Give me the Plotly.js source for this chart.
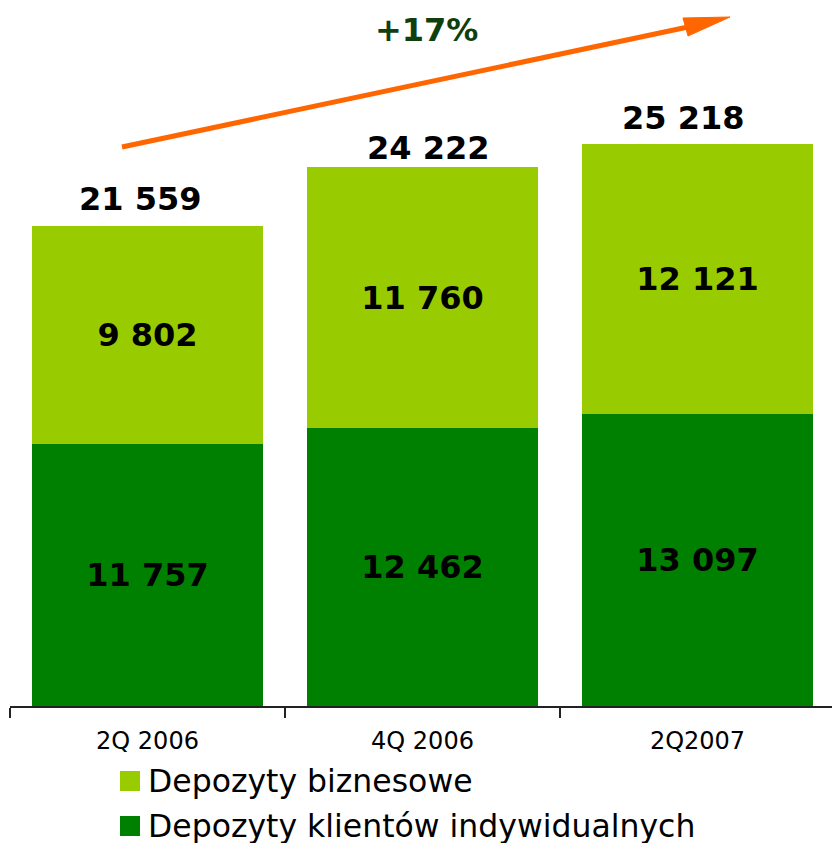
<!DOCTYPE html>
<html>
<head>
<meta charset="utf-8">
<script src="https://cdn.plot.ly/plotly-3.0.1.min.js"></script>
<style>
  html, body { margin: 0; padding: 0; background: #fff; }
  #chart { width: 832px; height: 843px; }
</style>
</head>
<body>
<div id="chart"></div>
<script>
// Deposit data (mln PLN)
const quarters = ['2Q 2006', '4Q 2006', '2Q2007'];
const individual = [11757, 12462, 13097];
const business = [9802, 11760, 12121];
const totals = [21559, 24222, 25218];
const seriesNames = ['Depozyty biznesowe', 'Depozyty klientów indywidualnych'];
const seriesColors = ['#99CC00', '#008000'];
const growthLabel = '+17%';

const FONT = 'Verdana, "DejaVu Sans", sans-serif';

// plot area in pixels, used to place the decorations
const L = 10, T = 0, W = 822, H = 706;
const px = x => (x - L) / W;
const py = y => (T + H - y) / H;

// "21 559" style numbers
function fmt(v) {
    return String(v).replace(/\B(?=(\d{3})+(?!\d))/g, ' ');
}

function barTrace(values, name, color) {
    return {
        x: quarters,
        y: values,
        name: name,
        type: 'bar',
        width: 0.84,
        marker: { color: color },
        text: values.map(fmt),
        textposition: 'inside',
        insidetextanchor: 'middle',
        textangle: 0,
        textfont: { family: FONT, size: 32, color: '#000', weight: 'bold' },
        hoverinfo: 'none',
        showlegend: false
    };
}

const traceIndividual = barTrace(individual, seriesNames[1], seriesColors[1]);
const traceBusiness = barTrace(business, seriesNames[0], seriesColors[0]);

// totals above the bars (the original labels sit a little off-centre)
const totalShiftX = [-8, 5, -15];
const totalShiftY = [27, 19, 26];
const annotations = quarters.map((q, i) => ({
    x: q,
    y: totals[i],
    text: '<b>' + fmt(totals[i]) + '</b>',
    showarrow: false,
    xanchor: 'center',
    yanchor: 'middle',
    xshift: totalShiftX[i],
    yshift: totalShiftY[i],
    font: { family: FONT, size: 32, color: '#000' }
}));

annotations.push({
    xref: 'paper', yref: 'paper',
    x: px(426), y: py(30),
    xanchor: 'center', yanchor: 'middle',
    text: '<b>' + growthLabel + '</b>',
    showarrow: false,
    font: { family: FONT, size: 32, color: '#0d400d' }
});

// custom legend: bigger squares than the built-in one
const legendRows = [781, 826];
const shapes = [];
seriesNames.forEach((name, i) => {
    const cy = legendRows[i];
    shapes.push({
        type: 'rect', xref: 'paper', yref: 'paper',
        x0: px(120), x1: px(140), y0: py(cy + 10), y1: py(cy - 10),
        fillcolor: seriesColors[i], line: { width: 0 }
    });
    annotations.push({
        xref: 'paper', yref: 'paper',
        x: px(146), y: py(cy),
        xanchor: 'left', yanchor: 'middle',
        text: name,
        showarrow: false,
        font: { family: FONT, size: 31.5, color: '#000' }
    });
});

// growth arrow
shapes.push({
    type: 'line', xref: 'paper', yref: 'paper',
    x0: px(122), y0: py(147), x1: px(688), y1: py(27),
    line: { color: '#FF6600', width: 5 }
});
shapes.push({
    type: 'path', xref: 'paper', yref: 'paper',
    path: `M${px(730)},${py(17)} L${px(683)},${py(18)} L${px(688)},${py(36)} Z`,
    fillcolor: '#FF6600', line: { color: '#FF6600', width: 1 }
});

const layout = {
    width: 832,
    height: 843,
    margin: { l: L, r: 0, t: T, b: 843 - H - T },
    paper_bgcolor: '#fff',
    plot_bgcolor: '#fff',
    barmode: 'stack',
    showlegend: false,
    xaxis: {
        type: 'category',
        range: [-0.5, -0.5 + W / 275],
        showline: true,
        linecolor: '#222',
        linewidth: 2,
        ticks: 'outside',
        tickson: 'boundaries',
        ticklen: 10,
        tickwidth: 2,
        tickcolor: '#222',
        ticklabelstandoff: 12,
        showgrid: false,
        zeroline: false,
        tickfont: { family: FONT, size: 24, color: '#000' },
        fixedrange: true
    },
    yaxis: {
        range: [0, 31700],
        visible: false,
        showgrid: false,
        zeroline: false,
        fixedrange: true
    },
    annotations: annotations,
    shapes: shapes
};

Plotly.newPlot('chart', [traceIndividual, traceBusiness], layout, { displayModeBar: false, staticPlot: true });
</script>
</body>
</html>
